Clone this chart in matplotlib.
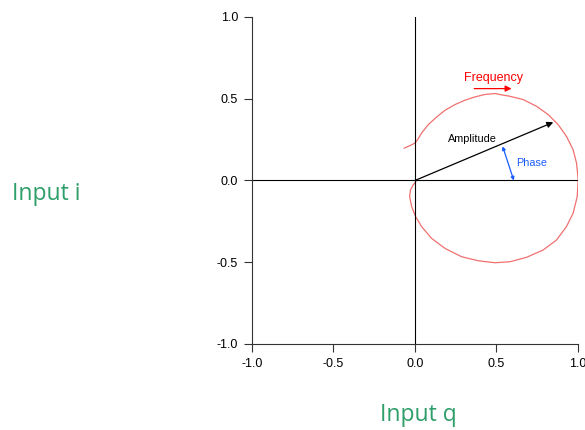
import matplotlib.pyplot as plt

# I/Q plane: frequency sweep trace, plus amplitude and phase of one point
TICKS = [-1.0, -0.5, 0.0, 0.5, 1.0]
TICK_LABELS = ['-1.0', '-0.5', '0.0', '0.5', '1.0']

sweep_q = [-0.066, -0.031, 0.0, 0.016, 0.041, 0.082, 0.133, 0.184, 0.245,
           0.307, 0.368, 0.429, 0.491, 0.52, 0.583, 0.664, 0.746, 0.818,
           0.879, 0.93, 0.971, 0.992, 1.002, 0.996, 0.971, 0.93, 0.869,
           0.787, 0.685, 0.583, 0.491, 0.388, 0.286, 0.184, 0.102, 0.041,
           0.004, -0.02, -0.033, -0.027, -0.01, 0.006]
sweep_i = [0.198, 0.213, 0.229, 0.249, 0.29, 0.342, 0.388, 0.429, 0.464,
           0.491, 0.511, 0.526, 0.532, 0.526, 0.515, 0.495, 0.454, 0.403,
           0.342, 0.27, 0.188, 0.106, 0.004, -0.098, -0.2, -0.282, -0.364,
           -0.425, -0.47, -0.497, -0.503, -0.491, -0.466, -0.415, -0.354,
           -0.282, -0.221, -0.16, -0.098, -0.057, -0.026, -0.006]

amp_tip = (0.849, 0.356)
phase_start = (0.538, 0.209)
phase_end = (0.607, 0.0)
freq_arrow_q = [0.364, 0.593]
freq_arrow_i = 0.562

green = '#2e9e6a'
label_font = 'Liberation Sans'

fig = plt.figure(figsize=(5.85, 4.3), dpi=100)
ax = fig.add_axes([0.4308, 0.2, 0.557, 0.7605])

ax.plot(sweep_q, sweep_i, color='#f07070', lw=0.9, solid_joinstyle='round')
ax.axhline(0, color='black', lw=0.8)
ax.axvline(0, color='black', lw=0.8)

ax.annotate('', xy=amp_tip, xytext=(0, 0),
            arrowprops=dict(arrowstyle='-|>', color='black', lw=0.9,
                            mutation_scale=9, shrinkA=0, shrinkB=0))
ax.text(0.35, 0.256, 'Amplitude', fontsize=7.8, ha='center', va='center',
        family=label_font)

ax.annotate('', xy=phase_end, xytext=phase_start,
            arrowprops=dict(arrowstyle='<|-|>', color='#1a5cff', lw=0.9,
                            mutation_scale=5, shrinkA=0, shrinkB=0))
ax.text(0.715, 0.11, 'Phase', fontsize=7.8, ha='center', va='center',
        color='#1a5cff', family=label_font)

ax.annotate('', xy=(freq_arrow_q[1], freq_arrow_i), xytext=(freq_arrow_q[0], freq_arrow_i),
            arrowprops=dict(arrowstyle='-|>', color='red', lw=0.9,
                            mutation_scale=9, shrinkA=0, shrinkB=0))
ax.text(0.485, 0.625, 'Frequency', fontsize=9, ha='center', va='center',
        color='red', family=label_font)

ax.set_xlim(-1, 1)
ax.set_ylim(-1, 1)
ax.set_xticks(TICKS)
ax.set_xticklabels(TICK_LABELS)
ax.set_yticks(TICKS)
ax.set_yticklabels(TICK_LABELS)
for side in ('top', 'right'):
    ax.spines[side].set_visible(False)
for side in ('left', 'bottom'):
    ax.spines[side].set_linewidth(0.8)
    ax.spines[side].set_color('#333333')
ax.tick_params(length=6, width=0.8, color='#333333', labelsize=9, pad=4)
for lbl in ax.get_xticklabels() + ax.get_yticklabels():
    lbl.set_family(label_font)
ax.patch.set_visible(False)

fig.text(12 / 585, 1 - 194 / 430, 'Input i', fontsize=16.5, color=green,
         ha='left', va='center', family='Open Sans')
fig.text(418 / 585, 1 - 415 / 430, 'Input q', fontsize=16.5, color=green,
         ha='center', va='center', family='Open Sans')

fig.savefig('out.png', dpi=100)
